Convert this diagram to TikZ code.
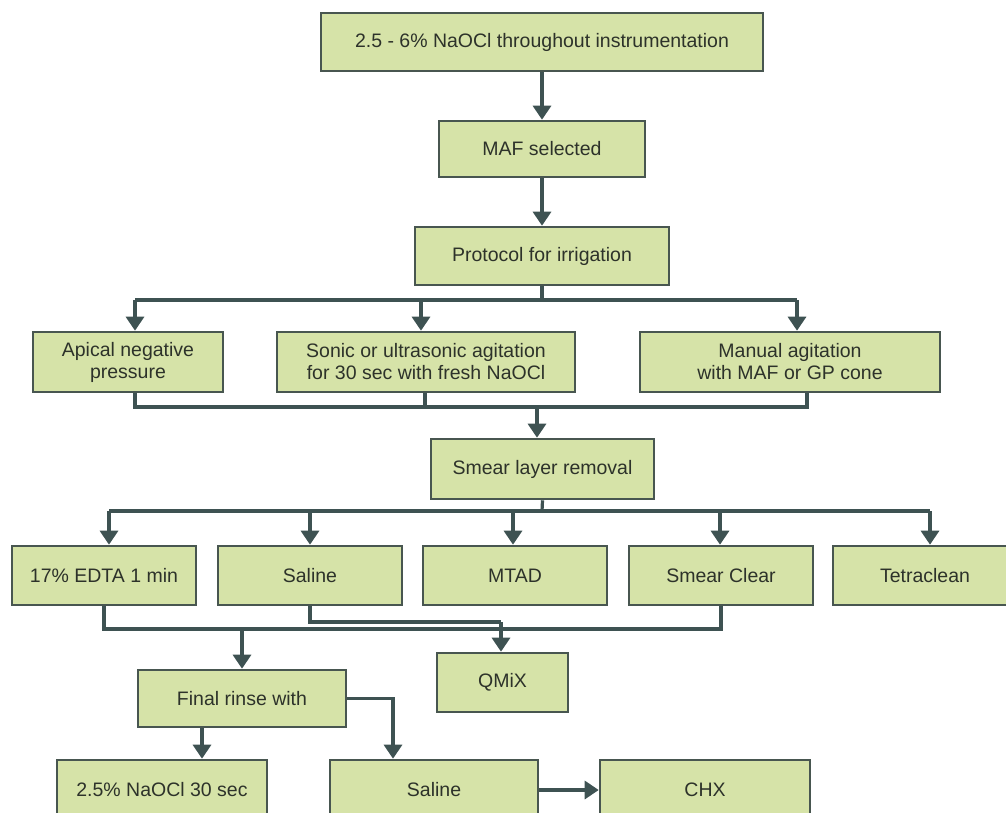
\documentclass[tikz,border=0pt]{standalone}
\usepackage{fontspec}
\setmainfont{Liberation Sans}
\usetikzlibrary{arrows.meta}
\definecolor{boxfill}{RGB}{214,227,168}
\definecolor{boxline}{RGB}{72,86,80}
\definecolor{arrcol}{RGB}{62,82,82}
\definecolor{txt}{RGB}{45,50,42}
\begin{document}
\begin{tikzpicture}[x=1pt,y=-1pt,
  box/.style={rectangle, draw=boxline, line width=2.6pt, fill=boxfill, text=txt,
    font=\fontsize{19.5}{22}\selectfont, align=center, inner sep=0pt},
  conn/.style={draw=arrcol, line width=3.2pt},
  arr/.style={conn, -{Triangle[width=18pt,length=14pt]}}]
\useasboundingbox (0,0) rectangle (1006,813);
\clip (0,0) rectangle (1006,813);
% nodes
\node[box, minimum width=442pt, minimum height=58pt] (top) at (542,42) {2.5 - 6\% NaOCl throughout instrumentation};
\node[box, minimum width=206pt, minimum height=56pt] (maf) at (542,149) {MAF selected};
\node[box, minimum width=254pt, minimum height=58pt] (prot) at (542,256) {Protocol for irrigation};
\node[box, minimum width=190pt, minimum height=60pt] (apical) at (128,362) {Apical negative\\pressure};
\node[box, minimum width=298pt, minimum height=60pt] (sonic) at (426,362) {Sonic or ultrasonic agitation\\for 30 sec with fresh NaOCl};
\node[box, minimum width=300pt, minimum height=60pt] (manual) at (790,362) {Manual agitation\\with MAF or GP cone};
\node[box, minimum width=223pt, minimum height=60pt] (smear) at (542.5,469) {Smear layer removal};
\node[box, minimum width=184pt, minimum height=59pt] (edta) at (104,575.5) {17\% EDTA 1 min};
\node[box, minimum width=184pt, minimum height=59pt] (saline) at (310,575.5) {Saline};
\node[box, minimum width=184pt, minimum height=59pt] (mtad) at (515,575.5) {MTAD};
\node[box, minimum width=184pt, minimum height=59pt] (clear) at (721,575.5) {Smear Clear};
\node[box, minimum width=184pt, minimum height=59pt] (tetra) at (925,575.5) {Tetraclean};
\node[box, minimum width=131pt, minimum height=59pt] (qmix) at (502.5,682.5) {QMiX};
\node[box, minimum width=208pt, minimum height=57pt] (final) at (242,698.5) {Final rinse with};
\node[box, minimum width=210pt, minimum height=60pt] (naocl) at (162,790) {2.5\% NaOCl 30 sec};
\node[box, minimum width=208pt, minimum height=60pt] (saline2) at (434,790) {Saline};
\node[box, minimum width=210pt, minimum height=60pt] (chx) at (705,790) {CHX};
% connectors
\draw[arr] (top) -- (maf);
\draw[arr] (maf) -- (prot);
\coordinate (s1) at (542,300);
\draw[conn] (prot.south) -- (s1);
\draw[conn] ([xshift=7pt]apical.north |- s1) -- ([xshift=7pt]manual.north |- s1);
\draw[arr] ([xshift=7pt]apical.north |- s1) -- ([xshift=7pt]apical.north);
\draw[arr] ([xshift=-5pt]sonic.north |- s1) -- ([xshift=-5pt]sonic.north);
\draw[arr] ([xshift=7pt]manual.north |- s1) -- ([xshift=7pt]manual.north);
\coordinate (m1) at (537,407);
\draw[conn] ([xshift=7pt]apical.south) -- ([xshift=7pt]apical.south |- m1) -- ([xshift=17pt]manual.south |- m1) -- ([xshift=17pt]manual.south);
\draw[conn] ([xshift=-1pt]sonic.south) -- ([xshift=-1pt]sonic.south |- m1);
\draw[arr] (m1) -- (m1 |- smear.north);
\coordinate (s2) at (542,511);
\draw[conn] (smear.south) -- (s2);
\draw[conn] ([xshift=5pt]edta.north |- s2) -- ([xshift=5pt]tetra.north |- s2);
\draw[arr] ([xshift=5pt]edta.north |- s2) -- ([xshift=5pt]edta.north);
\draw[arr] (saline.north |- s2) -- (saline.north);
\draw[arr] ([xshift=-2pt]mtad.north |- s2) -- ([xshift=-2pt]mtad.north);
\draw[arr] ([xshift=-1pt]clear.north |- s2) -- ([xshift=-1pt]clear.north);
\draw[arr] ([xshift=5pt]tetra.north |- s2) -- ([xshift=5pt]tetra.north);
\coordinate (m2) at (242,629);
\draw[conn] (edta.south) -- (edta.south |- m2) -- (clear.south |- m2) -- (clear.south);
\draw[arr] (m2) -- (final.north);
\coordinate (q1) at (501,622);
\draw[conn] (saline.south) -- (saline.south |- q1) -- (q1);
\draw[arr] (q1) -- (q1 |- qmix.north);
\coordinate (f1) at (393,698.5);
\draw[arr] (final.east) -- (f1) -- (f1 |- saline2.north);
\draw[arr] ([xshift=-40pt]final.south) -- ([xshift=40pt]naocl.north);
\draw[arr] (saline2) -- (chx);
\end{tikzpicture}
\end{document}
